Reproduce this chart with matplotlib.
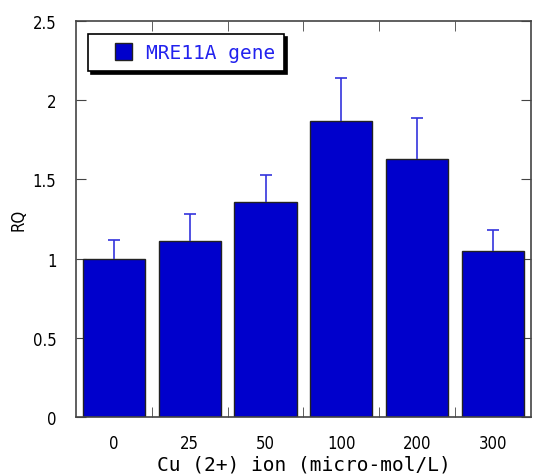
import numpy as np
import matplotlib
matplotlib.use("Agg")
import matplotlib.pyplot as plt
from matplotlib.patches import Rectangle
from matplotlib.legend_handler import HandlerPatch

# Data
concentrations = ["0", "25", "50", "100", "200", "300"]
rq_values = [1.00, 1.11, 1.36, 1.87, 1.63, 1.05]
rq_errors = [0.12, 0.17, 0.17, 0.27, 0.26, 0.13]
y_ticks = [0, 0.5, 1, 1.5, 2, 2.5]
y_tick_labels = ["0", "0.5", "1", "1.5", "2", "2.5"]

plt.rcParams["font.family"] = "DejaVu Sans"
plt.rcParams["font.stretch"] = "condensed"


def square_right(legend, orig_handle, xdescent, ydescent, width, height, fontsize):
    """Square legend key pushed to the right end of the handle box."""
    side = height
    return Rectangle((-xdescent + width - side, -ydescent), side, side)


def copy_first_bar(legend_handle, orig_handle):
    legend_handle.update_from(orig_handle.patches[0])


fig = plt.figure(figsize=(5.33, 4.77), dpi=100)
ax = fig.add_axes([0.1426, 0.1237, 0.8534, 0.8302])

x = np.arange(len(concentrations))
tops = np.array(rq_values) + np.array(rq_errors)
bars = ax.bar(x, rq_values, width=0.82, color="#0000CC", edgecolor="#222222",
              linewidth=1.0, label="MRE11A gene", zorder=2)
# upper-only error bars, no cap at the bar top
ax.vlines(x, rq_values, tops, color="#3333DD", linewidth=1.2, zorder=3)
ax.plot(x, tops, linestyle="none", marker="_", markersize=8,
        markeredgewidth=1.2, color="#3333DD", zorder=3)

ax.set_xlim(-0.5, len(concentrations) - 0.5)
ax.set_ylim(0, 2.5)
ax.set_xticks(x)
ax.set_xticklabels(concentrations)
ax.set_xticks(np.arange(0.5, len(concentrations) - 1), minor=True)
ax.set_yticks(y_ticks)
ax.set_yticklabels(y_tick_labels)

ax.tick_params(axis="x", which="major", length=0, pad=12, labelsize=12)
ax.tick_params(axis="x", which="minor", direction="in", length=7, top=True,
               bottom=True, color="#444444")
ax.tick_params(axis="y", which="major", direction="in", length=7, right=True,
               left=True, labelsize=12, pad=14, color="#444444")

for spine in ax.spines.values():
    spine.set_color("#444444")
    spine.set_linewidth(1.2)

ax.set_xlabel("Cu (2+) ion (micro-mol/L)", fontsize=14, labelpad=2,
              family="DejaVu Sans Mono", fontstretch="normal")
ax.set_ylabel("RQ", fontsize=12, labelpad=4)

leg = ax.legend(loc="upper left", bbox_to_anchor=(0.026, 0.966), frameon=True,
                fancybox=False, shadow={"color": "black", "alpha": 1},
                edgecolor="black", handlelength=1.8, handleheight=0.95,
                handletextpad=0.75, borderpad=0.45, labelcolor="#2222EE",
                borderaxespad=0,
                handler_map={bars: HandlerPatch(patch_func=square_right,
                                                update_func=copy_first_bar)},
                prop={"family": "DejaVu Sans Mono", "size": 14,
                      "stretch": "normal"})
leg.get_frame().set_linewidth(1.2)

fig.savefig("out.png", dpi=100)
